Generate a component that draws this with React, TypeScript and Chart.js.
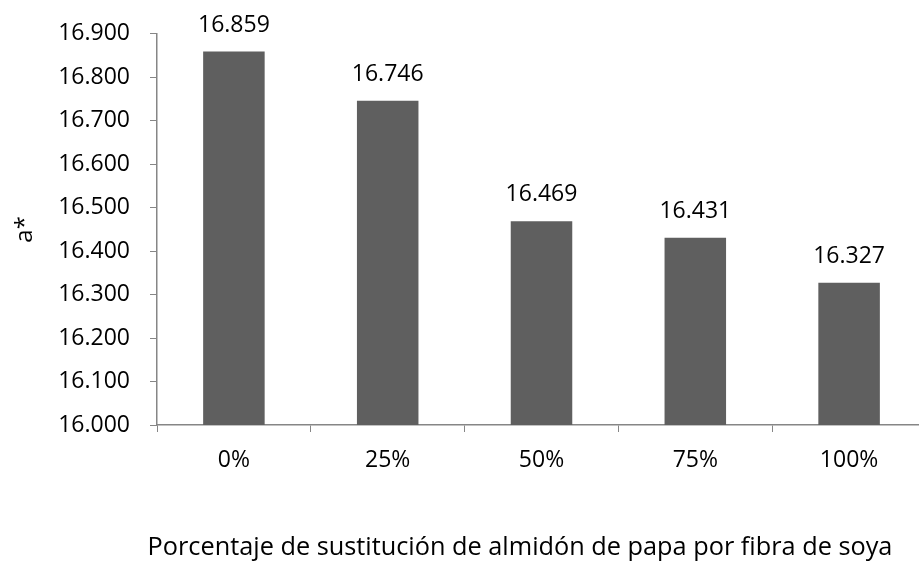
import React, { useEffect, useRef } from "react";
import { Chart, registerables } from "chart.js";

Chart.register(...registerables);

const categories = ["0%", "25%", "50%", "75%", "100%"];
const values = [16.859, 16.746, 16.469, 16.431, 16.327];
const yMin = 16.0;
const yMax = 16.9;
const yStep = 0.1;
const xTitle = "Porcentaje de sustitución de almidón de papa por fibra de soya";
const yTitle = "a*";

const FONT = "'Open Sans', sans-serif";
const AXIS = "#868686";
const BAR = "#5f5f5f";

const fmt = (v: number) => v.toFixed(3);

const labelPlugin = {
  id: "barLabels",
  afterDatasetsDraw(chart: any) {
    const { ctx } = chart;
    const meta = chart.getDatasetMeta(0);
    ctx.save();
    ctx.font = `23px ${FONT}`;
    ctx.fillStyle = "#000";
    ctx.textAlign = "center";
    ctx.textBaseline = "alphabetic";
    meta.data.forEach((bar: any, i: number) => {
      ctx.fillText(fmt(values[i]), bar.x, bar.y - 20);
    });
    // x-axis title, centred as in the reference
    ctx.font = `25.3px ${FONT}`;
    ctx.textBaseline = "middle";
    ctx.fillText(xTitle, 520, 548);
    ctx.restore();
  },
};

export default function App() {
  const ref = useRef<HTMLCanvasElement | null>(null);
  useEffect(() => {
    if (!ref.current) return;
    const chart = new Chart(ref.current, {
      type: "bar",
      data: {
        labels: categories,
        datasets: [
          {
            data: values,
            backgroundColor: BAR,
            barPercentage: 0.4,
            categoryPercentage: 1,
          },
        ],
      },
      options: {
        animation: false,
        responsive: true,
        maintainAspectRatio: false,
        layout: { padding: { top: 30, right: 0, bottom: 0, left: 0 } },
        plugins: { legend: { display: false }, tooltip: { enabled: false } },
        scales: {
          x: {
            grid: {
              drawOnChartArea: false,
              color: AXIS,
              tickLength: 7,
              offset: true,
            },
            border: { color: AXIS, width: 1.5 },
            ticks: { color: "#000", font: { family: FONT, size: 23 }, padding: 15 },
            afterFit: (s: any) => {
              s.height = 142;
            },
          },
          y: {
            min: yMin,
            max: yMax,
            grid: { drawOnChartArea: false, color: AXIS, tickLength: 7 },
            border: { color: AXIS, width: 1.5 },
            ticks: {
              stepSize: yStep,
              color: "#000",
              font: { family: FONT, size: 23 },
              padding: 20,
              callback: (v: any) => fmt(Number(v)),
            },
            title: {
              display: true,
              text: yTitle,
              color: "#000",
              font: { family: FONT, size: 24 },
              padding: { top: 11, bottom: 0 },
            },
            afterFit: (s: any) => {
              s.width = 157;
            },
          },
        },
      },
      plugins: [labelPlugin],
    });
    return () => chart.destroy();
  }, []);
  return (
    <div style={{ position: "fixed", left: 0, top: 0, width: 919, height: 567, overflow: "hidden", background: "#fff" }}>
      <div style={{ position: "relative", width: 926, height: 567 }}>
        <canvas ref={ref} />
      </div>
    </div>
  );
}
